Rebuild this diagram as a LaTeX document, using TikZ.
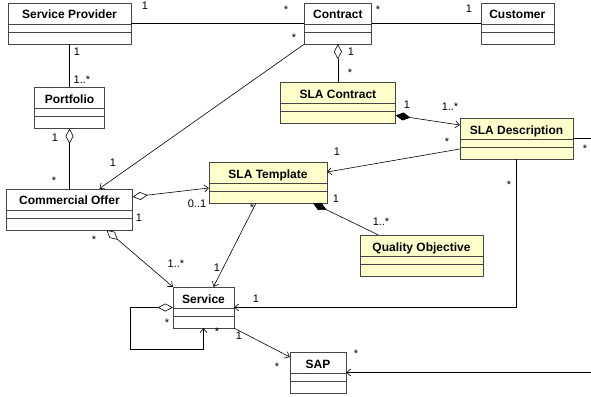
\documentclass[tikz,border=0pt]{standalone}
\usepackage{fontspec}
\setmainfont{Liberation Sans}
\usetikzlibrary{arrows.meta, positioning}

\definecolor{slayellow}{RGB}{255,255,204}
\definecolor{boxline}{RGB}{70,70,70}

\begin{document}
\begin{tikzpicture}[x=1pt, y=-1pt,
    class/.style = {rectangle, draw=boxline, fill=white, inner sep=0pt,
                    minimum height=41pt, text height=16pt, text depth=25pt,
                    font=\bfseries\fontsize{12}{14}\selectfont,
                    path picture={
                      \draw[boxline] ([yshift=-21pt]path picture bounding box.north west) -- ([yshift=-21pt]path picture bounding box.north east);
                      \draw[boxline] ([yshift=-29pt]path picture bounding box.north west) -- ([yshift=-29pt]path picture bounding box.north east);
                    }},
    sla/.style = {class, fill=slayellow},
    mult/.style = {inner sep=0pt, font=\fontsize{11}{13}\selectfont},
    assoc/.style = {line width=0.6pt},
    nav/.style = {assoc, -{Straight Barb[length=4pt, width=7pt]}},
    aggr/.style = {assoc, {Diamond[open, length=15pt, width=8pt]}-},
    aggrnav/.style = {assoc, {Diamond[open, length=15pt, width=8pt]}-{Straight Barb[length=4pt, width=7pt]}},
    comp/.style = {assoc, {Diamond[length=15pt, width=8pt]}-},
    compnav/.style = {assoc, {Diamond[length=15pt, width=8pt]}-{Straight Barb[length=4pt, width=7pt]}}
  ]
  \useasboundingbox (0,0) rectangle (591,396);

  % --- Top row ---
  \node[class, minimum width=123pt] (sp) at (69.5,23.5) {Service Provider};
  \node[class, minimum width=67pt, right=173pt of sp] (contract) {Contract};
  \node[class, minimum width=73pt, right=109pt of contract] (customer) {Customer};

  % --- Left column ---
  \node[class, minimum width=70pt, below=43pt of sp] (portfolio) {Portfolio};
  \node[class, minimum width=126pt, below=60pt of portfolio] (co) {Commercial Offer};

  % --- SLA classes ---
  \node[sla, minimum width=115pt, below=38pt of contract] (slac) {SLA Contract};
  \node[sla, minimum width=113pt] (sladesc) at (516.5,138.5) {SLA Description};
  \node[sla, minimum width=118pt] (template) at (268,182.5) {SLA Template};
  \node[sla, minimum width=123pt] (qo) at (421.5,255.5) {Quality Objective};

  % --- Bottom ---
  \node[class, minimum width=61pt] (service) at (203.5,307.5) {Service};
  \node[class, minimum width=56pt] (sap) at (318,372.5) {SAP};

  \coordinate (descout) at (591,138.5);
  \coordinate (sapout) at (591,372.5);

  % --- Connectors ---
  \draw[assoc] (sp) -- (contract);
  \draw[assoc] (contract) -- (customer);
  \draw[assoc] (sp) -- (portfolio);
  \draw[aggr] (portfolio) -- (co);
  \draw[nav] (contract.south west) -- ([xshift=30pt]co.north);
  \draw[aggr] (contract) -- (slac);
  \draw[compnav] ([yshift=-12.5pt]slac.east) -- ([yshift=13.5pt]sladesc.west);
  \draw[nav] ([yshift=-10.5pt]sladesc.west) -- ([yshift=10.5pt]template.east);
  \draw[assoc] (sladesc.east) -- (descout);
  \draw[nav] (sladesc.south) |- (service.east);
  \draw[aggrnav] ([yshift=12.5pt]co.east) -- ([yshift=-5.5pt]template.west);
  \draw[comp] ([xshift=45pt]template.south) -- ([xshift=-43.5pt]qo.north);
  \draw[aggrnav] ([xshift=37pt]co.south) -- (service.north west);
  \draw[nav] ([xshift=-12pt]template.south) -- ([xshift=10pt]service.north);
  \draw[aggrnav] (service.west) -- ++(-43pt,0) |- ([yshift=-21pt]service.south) -- (service.south);
  \draw[nav] (service.south east) -- ([yshift=15.5pt]sap.west);
  \draw[nav] (sapout) -- (sap.east);

  % --- Multiplicities ---
  % Service Provider - Contract - Customer
  \node[mult] (m-sp-c) at (145,6) {1};
  \node[mult] (m-c-sp) at (286,10) {*};
  \node[mult] (m-c-cu) at (378,10) {*};
  \node[mult] (m-cu-c) at (469,9) {1};
  % Service Provider - Portfolio - Commercial Offer
  \node[mult] (m-sp-p) at (77,52) {1};
  \node[mult] (m-p-sp) at (82,80) {1..*};
  \node[mult] (m-p-co) at (55,138) {1};
  \node[mult] (m-co-p) at (54,181) {*};
  % Contract - Commercial Offer
  \node[mult] (m-c-co) at (294,38) {*};
  \node[mult] (m-co-c) at (113,163) {1};
  % Contract - SLA Contract - SLA Description
  \node[mult] (m-c-slac) at (351,52) {1};
  \node[mult] (m-slac-c) at (350,73) {*};
  \node[mult] (m-slac-d) at (407,105) {1};
  \node[mult] (m-d-slac) at (450,107) {1..*};
  % SLA Description - SLA Template
  \node[mult] (m-d-t) at (447,142) {*};
  \node[mult] (m-t-d) at (337,152) {1};
  \node[mult] (m-d-out) at (585,149) {*};
  \node[mult] (m-d-s) at (509,185) {*};
  % SLA Template - Quality Objective
  \node[mult] (m-t-qo) at (336,199) {1};
  \node[mult] (m-qo-t) at (381,222) {1..*};
  % Commercial Offer - SLA Template / Service
  \node[mult] (m-t-co) at (197,204) {0..1};
  \node[mult] (m-co-t) at (139,218) {1};
  \node[mult] (m-co-s) at (94,240) {*};
  \node[mult] (m-s-co) at (176,264) {1..*};
  % SLA Template - Service
  \node[mult] (m-t-s) at (252,208) {*};
  \node[mult] (m-s-t) at (217,268) {1};
  % Service
  \node[mult] (m-s-d) at (256,299) {1};
  \node[mult] (m-s-self1) at (167,323) {*};
  \node[mult] (m-s-self2) at (217,332) {*};
  \node[mult] (m-s-sap) at (239,336) {1};
  \node[mult] (m-sap-s) at (277,367) {*};
  \node[mult] (m-sap-out) at (356,354) {*};

\end{tikzpicture}
\end{document}
